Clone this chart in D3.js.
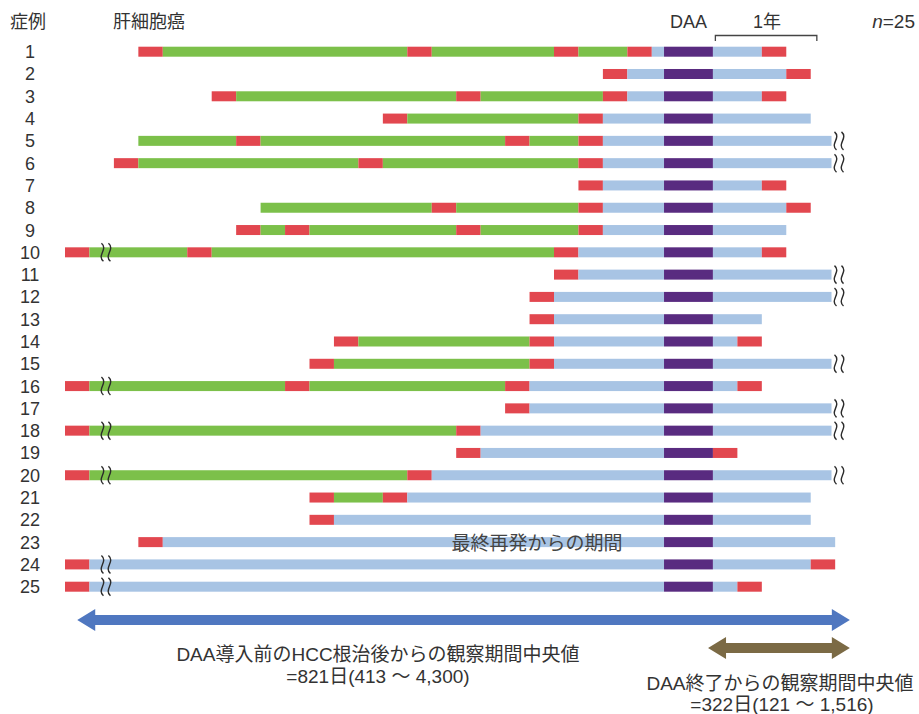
<meta charset="utf-8">
<script src="https://cdn.jsdelivr.net/npm/d3@7/dist/d3.min.js"></script>
<style>
  body { margin: 0; background: #fff; }
  text { font-family: "Liberation Sans", "Noto Sans CJK JP", sans-serif; fill: #333; }
</style>
<div id="chart"></div>
<script>
// data: positions in time units (about 3 months each)
var caseNo = [1, 2, 3, 4, 5, 6, 7, 8, 9, 10, 11, 12, 13, 14, 15, 16, 17, 18, 19, 20, 21, 22, 23, 24, 25]
var startUnit = [3, 22, 6, 13, 3, 2, 21, 8, 7, 0, 20, 19, 19, 11, 10, 0, 18, 0, 16, 0, 10, 10, 3, 0, 0]
// recurrences before DAA (start of each red block)
var preRec = [
  [3, 14, 20, 23], [22], [6, 16, 22], [13, 21], [7, 18, 21], [2, 12, 21], [21], [15, 21],
  [7, 9, 16, 21], [0, 5, 20], [20], [19], [19], [11, 19], [10, 19], [0, 9, 18], [18],
  [0, 16], [16], [0, 14], [10, 13], [10], [3], [0], [0]
]
// recurrence after DAA (null = none)
var postRec = [28.5, 29.5, 28.5, null, null, null, 28.5, 29.5, null, 28.5, null, null, null,
  27.5, null, 27.5, null, null, 26.5, null, null, null, null, 30.5, 27.5]
var endUnit = [29.5, 30.5, 29.5, 30.5, 31.35, 31.35, 29.5, 30.5, 29.5, 29.5, 31.35, 31.35, 28.5,
  28.5, 31.35, 28.5, 31.35, 31.35, 27.5, 31.35, 30.5, 30.5, 31.5, 31.5, 28.5]
var leftBreak = [10, 16, 18, 20, 24, 25]
var rightBreak = [5, 6, 11, 12, 15, 17, 18, 20]
var daaStart = 24.5, daaEnd = 26.5

var colors = { red: "#e2474f", green: "#7cc04a", blue: "#a8c4e4", daa: "#592b80" }

var W = 919, H = 714
var svg = d3.select("#chart").append("svg")
  .attr("width", W).attr("height", H)

var x = d3.scaleLinear().domain([0, 31.5]).range([65, 65 + 31.5 * 24.45])
var y = d3.scalePoint().domain(caseNo).range([51.7, 586.7])
var barH = 10

// build segments for each case
var segs = []
caseNo.forEach(function(c, i) {
  var cur = startUnit[i]
  preRec[i].forEach(function(r) {
    if (r > cur) segs.push({ c: c, a: cur, b: r, t: "green" })
    segs.push({ c: c, a: r, b: r + 1, t: "red" })
    cur = r + 1
  })
  segs.push({ c: c, a: cur, b: daaStart, t: "blue" })
  segs.push({ c: c, a: daaStart, b: daaEnd, t: "daa" })
  if (postRec[i] != null) {
    if (postRec[i] > daaEnd) segs.push({ c: c, a: daaEnd, b: postRec[i], t: "blue" })
    segs.push({ c: c, a: postRec[i], b: postRec[i] + 1, t: "red" })
  } else {
    segs.push({ c: c, a: daaEnd, b: endUnit[i], t: "blue" })
  }
})

svg.append("g").selectAll("rect")
  .data(segs)
  .enter().append("rect")
  .attr("x", function(d) { return x(d.a) })
  .attr("width", function(d) { return x(d.b) - x(d.a) })
  .attr("y", function(d) { return y(d.c) - barH / 2 })
  .attr("height", barH)
  .attr("fill", function(d) { return colors[d.t] })

// wavy break marks
function wave(x0, yc) {
  return "M" + (x0 - 1) + "," + (yc - 9) + " C" + (x0 + 6) + "," + (yc - 3) + " " + (x0 - 6) + "," + (yc + 3) + " " + (x0 + 1) + "," + (yc + 9)
}
var breaks = svg.append("g").attr("fill", "none").attr("stroke", "#2b2b2b").attr("stroke-width", 1.4)
leftBreak.forEach(function(c) {
  var x0 = x(1) + 13
  breaks.append("path").attr("d", wave(x0, y(c)))
  breaks.append("path").attr("d", wave(x0 + 7, y(c)))
})
rightBreak.forEach(function(c) {
  var x0 = x(31.35) + 4
  breaks.append("path").attr("d", wave(x0, y(c)))
  breaks.append("path").attr("d", wave(x0 + 7, y(c)))
})

// case labels
svg.append("g").selectAll("text")
  .data(caseNo)
  .enter().append("text")
  .attr("x", 30)
  .attr("y", function(d) { return y(d) })
  .attr("dy", "0.36em")
  .attr("text-anchor", "middle")
  .style("font-size", "18px")
  .text(function(d) { return d })

// header
svg.append("text").attr("x", 10).attr("y", 28).style("font-size", "18px").text("症例")
svg.append("text").attr("x", 113).attr("y", 28).style("font-size", "18px").text("肝細胞癌")
svg.append("text").attr("x", x((daaStart + daaEnd) / 2)).attr("y", 28)
  .attr("text-anchor", "middle").style("font-size", "18px").text("DAA")
svg.append("text").attr("x", 767).attr("y", 28)
  .attr("text-anchor", "middle").style("font-size", "18px").text("1年")
var nt = svg.append("text").attr("x", 915).attr("y", 28)
  .attr("text-anchor", "end").style("font-size", "19px")
nt.append("tspan").style("font-style", "italic").text("n")
nt.append("tspan").text("=25")

// 1 year bracket
svg.append("path")
  .attr("d", "M" + x(26.6) + ",41 V35.5 H" + x(30.75) + " V41")
  .attr("fill", "none").attr("stroke", "#444").attr("stroke-width", 1.3)

svg.append("text").attr("x", 537).attr("y", 550)
  .attr("text-anchor", "middle").style("font-size", "19px").style("fill", "#444")
  .text("最終再発からの期間")

// double arrows
function dblArrow(x1, x2, yc, col) {
  var t = 5, hh = 11, hl = 18
  var p = d3.path()
  p.moveTo(x1, yc)
  p.lineTo(x1 + hl, yc - hh)
  p.lineTo(x1 + hl, yc - t)
  p.lineTo(x2 - hl, yc - t)
  p.lineTo(x2 - hl, yc - hh)
  p.lineTo(x2, yc)
  p.lineTo(x2 - hl, yc + hh)
  p.lineTo(x2 - hl, yc + t)
  p.lineTo(x1 + hl, yc + t)
  p.lineTo(x1 + hl, yc + hh)
  p.closePath()
  svg.append("path").attr("d", p.toString()).attr("fill", col)
}
dblArrow(x(0.5), x(32.1), 620, "#4f77c0")
dblArrow(x(26.3), x(32.1), 648, "#7b6a45")

svg.append("text").attr("x", 378).attr("y", 661).attr("text-anchor", "middle")
  .style("font-size", "19px").text("DAA導入前のHCC根治後からの観察期間中央値")
svg.append("text").attr("x", 378).attr("y", 683).attr("text-anchor", "middle")
  .style("font-size", "19px").text("=821日(413 ～ 4,300)")
svg.append("text").attr("x", 780).attr("y", 690).attr("text-anchor", "middle")
  .style("font-size", "19px").text("DAA終了からの観察期間中央値")
svg.append("text").attr("x", 782).attr("y", 711).attr("text-anchor", "middle")
  .style("font-size", "19px").text("=322日(121 ～ 1,516)")
</script>
